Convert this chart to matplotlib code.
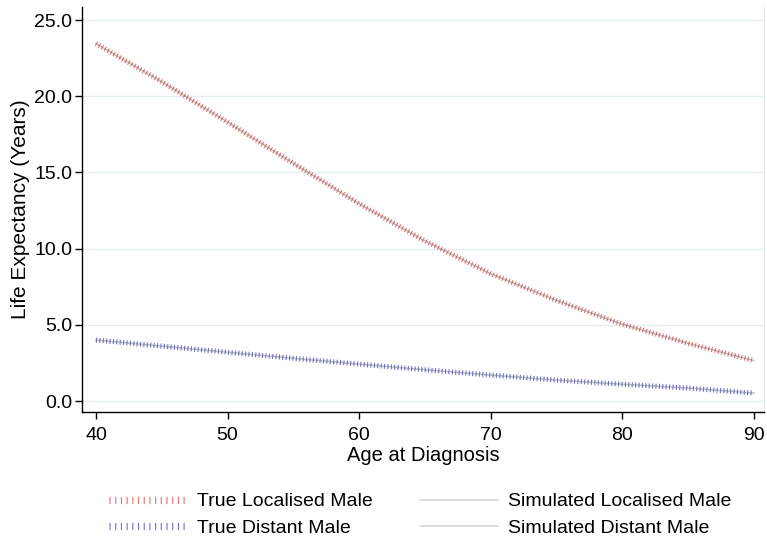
import matplotlib
matplotlib.use('Agg')
import matplotlib.pyplot as plt
from matplotlib.lines import Line2D

plt.rcParams['font.family'] = ['Liberation Sans', 'DejaVu Sans']
plt.rcParams['lines.scale_dashes'] = False

# data (5-year steps)
age = [40, 45, 50, 55, 60, 65, 70, 75, 80, 85, 90]
true_local = [23.45, 20.95, 18.3, 15.6, 12.95, 10.5, 8.35, 6.6, 5.04, 3.78, 2.65]
true_distant = [4.0, 3.6, 3.2, 2.8, 2.42, 2.05, 1.7, 1.37, 1.1, 0.85, 0.52]
sim_local = [23.45, 20.95, 18.3, 15.6, 12.95, 10.5, 8.35, 6.6, 5.04, 3.78, 2.65]
sim_distant = [4.0, 3.6, 3.2, 2.8, 2.42, 2.05, 1.7, 1.37, 1.1, 0.85, 0.52]

labels = ['True Localised Male', 'True Distant Male',
          'Simulated Localised Male', 'Simulated Distant Male']
yticks = [0, 5, 10, 15, 20, 25]
xticks = [40, 50, 60, 70, 80, 90]

red = '#e87070'
blue = '#7070d8'
sim_col = '#707070'

fig = plt.figure(figsize=(7.67, 5.43), dpi=100)
ax = fig.add_axes([0.1069, 0.2413, 0.996 - 0.1069, 0.987 - 0.2413])

# the "true" curves: thick line with very short dashes -> perpendicular ticks
for y, c in [(true_local, red), (true_distant, blue)]:
    ln, = ax.plot(age, y, color=c, lw=3.6, zorder=3)
    ln.set_dashes((0.8, 1.65))
    ln.set_dash_capstyle('butt')

# simulated curves, thin gray on top
ax.plot(age, sim_local, color=sim_col, lw=1.1, alpha=0.45, zorder=4)
ax.plot(age, sim_distant, color=sim_col, lw=1.1, alpha=0.45, zorder=4)

ax.set_xlim(38.94, 90.76)
ax.set_ylim(-0.72, 25.85)
ax.set_xticks(xticks)
ax.set_yticks(yticks)
ax.set_yticklabels(['%.1f' % v for v in yticks])
ax.grid(axis='y', color='#e4eef0', lw=1.0)
ax.set_axisbelow(True)

ax.spines['top'].set_visible(False)
ax.spines['right'].set_color('#e8eef0')
ax.spines['left'].set_linewidth(1.0)
ax.spines['bottom'].set_linewidth(1.0)
ax.tick_params(axis='both', labelsize=14, length=5, width=1.0, pad=2)
ax.tick_params(axis='x', pad=6)
ax.set_xlabel('Age at Diagnosis', fontsize=14.5, labelpad=1)
ax.set_ylabel('Life Expectancy (Years)', fontsize=15, labelpad=3)

# legend handles
h1 = Line2D([], [], color=red, lw=5.2)
h1.set_dashes((0.8, 3.3))
h1.set_dash_capstyle('butt')
h2 = Line2D([], [], color=blue, lw=5.2)
h2.set_dashes((0.8, 3.3))
h2.set_dash_capstyle('butt')
h3 = Line2D([], [], color=sim_col, lw=1.1, alpha=0.3)
h4 = Line2D([], [], color=sim_col, lw=1.1, alpha=0.3)

fig.legend([h1, h2, h3, h4], labels, ncol=2, frameon=False, fontsize=14,
           loc='center', bbox_to_anchor=(0.548, 0.052),
           handlelength=4.0, handletextpad=0.55, columnspacing=2.4,
           labelspacing=0.45, borderpad=0)

fig.savefig('out.png', dpi=100)
